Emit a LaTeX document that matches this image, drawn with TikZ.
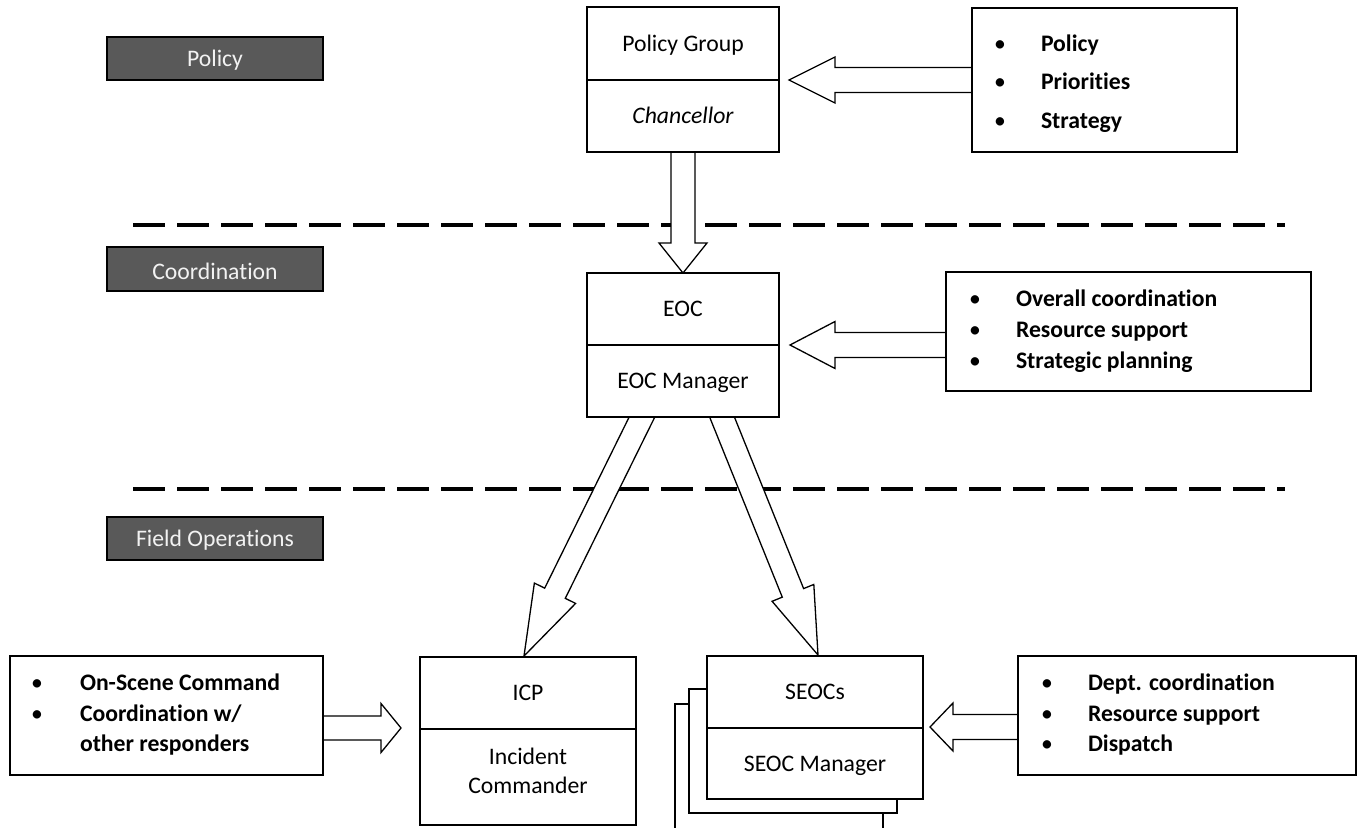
\documentclass[tikz,border=0pt]{standalone}
\usepackage{fontspec}
\setmainfont{Carlito}[Ligatures=NoCommon]
\usetikzlibrary{calc,backgrounds}
\definecolor{labgray}{HTML}{595959}
\definecolor{labtext}{HTML}{F2F2F2}
\newcommand\blockarrow[5]{%
  \coordinate (bah) at ($(#2)!#5!(#1)$);
  \draw[blk] ($(#1)!#3!90:(#2)$) -- ($(bah)!#3!90:(#2)$) -- ($(bah)!#4!90:(#2)$) -- (#2)
    -- ($(bah)!#4!-90:(#2)$) -- ($(bah)!#3!-90:(#2)$) -- ($(#1)!#3!-90:(#2)$) -- cycle;}
\begin{document}
\begin{tikzpicture}[x=1pt,y=-1pt,
  every node/.style={font=\fontsize{23.7}{28}\selectfont, outer sep=0pt},
  tx/.style={inner sep=0pt, text height=15.3pt, text depth=0pt},
  part/.style={tx, draw, line width=1.8pt, fill=white},
  lab/.style={tx, draw=black, line width=2pt, fill=labgray, text=labtext, minimum width=216pt, minimum height=43pt},
  blist/.style={draw, line width=1.8pt, fill=white, inner sep=0pt},
  bul/.style={tx, anchor=west},
  itm/.style={tx, anchor=west, font=\fontsize{23.7}{28}\selectfont\bfseries},
  blk/.style={draw, line width=1.3pt, fill=white, line join=miter, miter limit=10},
  sep/.style={line width=4pt, dash pattern=on 32pt off 12pt}
]
\useasboundingbox (0,0) rectangle (1362,827);
\clip (0,0) rectangle (1362,827);

% level labels
\node[lab] (lpol) at (215,58.5) {Policy};
\node[lab, minimum height=44pt] (lcoo) at (215,269) {\raisebox{-3pt}{Coordination}};
\node[lab] (lfie) at (215,538.5) {Field Operations};

% Policy group
\node[part, minimum width=192pt, minimum height=73pt, anchor=north west] (pg) at (587,7) {Policy Group};
\node[part, minimum width=192pt, minimum height=72pt, anchor=north] (ch) at (pg.south) {\itshape Chancellor};

% EOC
\node[part, minimum width=192pt, minimum height=72pt, anchor=north west] (eoc) at (587,273) {EOC};
\node[part, minimum width=192pt, minimum height=72pt, anchor=north] (eocm) at (eoc.south) {EOC Manager};

% ICP
\node[part, minimum width=216pt, minimum height=72pt, anchor=north west] (icp) at (420,657) {ICP};
\node[part, minimum width=216pt, minimum height=96pt, anchor=north] (icpm) at (icp.south) {};
\node[tx] (icpm1) at ($(icpm.center)+(0,-20)$) {Incident};
\node[tx] (icpm2) at ($(icpm.center)+(0,9)$) {Commander};

% SEOC stack
\node[blist, minimum width=208pt, minimum height=140pt, anchor=north west] (seoc3) at (675,704) {};
\node[blist, minimum width=208pt, minimum height=124pt, anchor=north west] (seoc2) at (689,689) {};
\node[part, minimum width=216pt, minimum height=72pt, anchor=north west] (seoc) at (707,656) {SEOCs};
\node[part, minimum width=216pt, minimum height=71pt, anchor=north] (seocm) at (seoc.south) {SEOC Manager};

% right box 1
\node[blist, minimum width=265pt, minimum height=144pt, anchor=north west] (rb1) at (972,8) {};
\node[bul] (rb1b1) at (994,44) {•};
\node[bul] (rb1b2) at (994,82) {•};
\node[bul] (rb1b3) at (994,121) {•};
\node[itm] (rb1t1) at (1041,44) {Policy};
\node[itm] (rb1t2) at (1041,82) {Priorities};
\node[itm] (rb1t3) at (1041,121) {Strategy};

% right box 2
\node[blist, minimum width=365pt, minimum height=119pt, anchor=north west] (rb2) at (946,272) {};
\node[bul] (rb2b1) at (969,299) {•};
\node[bul] (rb2b2) at (969,330) {•};
\node[bul] (rb2b3) at (969,361) {•};
\node[itm] (rb2t1) at (1016,299) {Overall coordination};
\node[itm] (rb2t2) at (1016,330) {Resource support};
\node[itm] (rb2t3) at (1016,361) {Strategic planning};

% left box
\node[blist, minimum width=313pt, minimum height=119pt, anchor=north west] (lb) at (10,656) {};
\node[bul] (lbb1) at (31,683) {•};
\node[bul] (lbb2) at (31,714) {•};
\node[itm] (lbt1) at (80,683) {On-Scene Command};
\node[itm] (lbt2) at (80,714) {Coordination w/};
\node[itm] (lbt3) at (80,744) {other responders};

% right box 3
\node[blist, minimum width=338pt, minimum height=119pt, anchor=north west] (rb3) at (1018,656) {};
\node[bul] (rb3b1) at (1041,683) {•};
\node[bul] (rb3b2) at (1041,714) {•};
\node[bul] (rb3b3) at (1041,744) {•};
\node[itm] (rb3t1) at (1088,683) {Dept. coordination};
\node[itm] (rb3t2) at (1088,714) {Resource support};
\node[itm] (rb3t3) at (1088,744) {Dispatch};

\begin{pgfonlayer}{background}
\fill[white] (0,0) rectangle (1362,827);
\draw[sep] (133,225) -- (1285,225);
\draw[sep] (133,489) -- (1285,489);
% policy arrow
\coordinate (a1e) at ($(pg.south east)+(10,0)$);
\coordinate (a1s) at ($(rb1.west |- a1e)+(10,0)$);
\blockarrow{a1s}{a1e}{12.5pt}{23pt}{46pt}
% vertical arrow
\coordinate (a2s) at ($(ch.south)+(0,-10)$);
\coordinate (a2e) at (eoc.north);
\blockarrow{a2s}{a2e}{12pt}{24pt}{30pt}
% EOC arrow
\coordinate (a3e) at ($(eoc.south east)+(11,0)$);
\coordinate (a3s) at ($(rb2.west |- a3e)+(10,0)$);
\blockarrow{a3s}{a3e}{12.5pt}{23.5pt}{45pt}
% diagonal left
\coordinate (a4e) at ($(icp.north west)+(104,-1)$);
\coordinate (a4b) at ($(eocm.south west)+(55,0)$);
\coordinate (a4s) at ($(a4e)!1.07!(a4b)$);
\blockarrow{a4s}{a4e}{11.5pt}{23pt}{70pt}
% diagonal right
\coordinate (a5e) at ($(seoc.north west)+(111,-1)$);
\coordinate (a5b) at ($(eocm.south west)+(135,0)$);
\coordinate (a5s) at ($(a5e)!1.07!(a5b)$);
\blockarrow{a5s}{a5e}{11.5pt}{22.5pt}{67pt}
% left box arrow
\coordinate (a6e) at ($(icp.south west)+(-19,-1)$);
\coordinate (a6s) at ($(lb.east |- a6e)+(-10,0)$);
\blockarrow{a6s}{a6e}{12pt}{24.5pt}{20pt}
% SEOC arrow
\coordinate (a7e) at ($(seoc.south east)+(7,-1)$);
\coordinate (a7s) at ($(rb3.west |- a7e)+(10,0)$);
\blockarrow{a7s}{a7e}{12.5pt}{24pt}{23pt}
\end{pgfonlayer}
\end{tikzpicture}
\end{document}
